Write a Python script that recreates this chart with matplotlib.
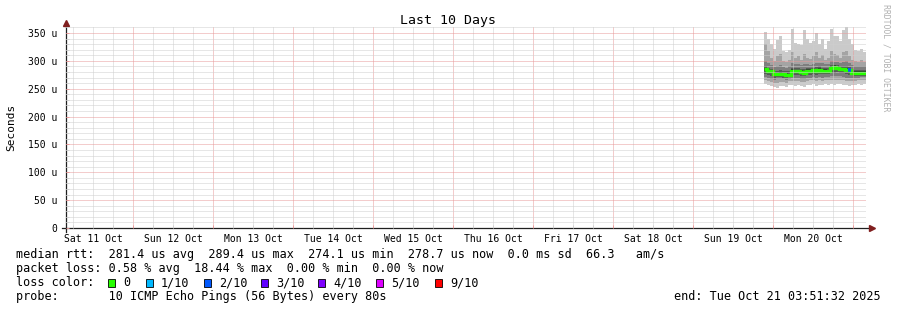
# %%

import matplotlib.pyplot as plt
import numpy as np
from matplotlib.patches import Rectangle
from matplotlib.ticker import MultipleLocator, FuncFormatter
from matplotlib.transforms import ScaledTranslation


# %%
# time axis: hours since Sat 11 Oct 00:00, graph ends Tue 21 Oct 03:51:32
t_end = 243.859
t_begin = t_end - 240
day_labels = ["Sat 11 Oct", "Sun 12 Oct", "Mon 13 Oct", "Tue 14 Oct", "Wed 15 Oct",
              "Thu 16 Oct", "Fri 17 Oct", "Sat 18 Oct", "Sun 19 Oct", "Mon 20 Oct"]

# smoke columns, 0.9 h each, the last one ends at t_end
col_hours = 0.9

# sorted ping rtt per column (us), p1 = fastest, p10 = slowest
p10 = [352, 340, 330, 322, 338, 345, 318, 315, 320, 358, 332, 330, 328, 355, 340, 332, 335,
       350, 330, 340, 322, 335, 358, 345, 345, 335, 355, 360, 340, 330, 320, 318, 322, 315]
p9 = [330, 318, 305, 300, 308, 312, 300, 298, 302, 315, 305, 308, 302, 312, 306, 303, 308,
      315, 305, 310, 302, 306, 318, 312, 310, 305, 315, 318, 308, 302, 300, 298, 302, 298]
p8 = [300, 296, 292, 289, 291, 293, 289, 288, 290, 297, 294, 294, 292, 294, 294, 293, 295,
      297, 296, 296, 294, 295, 300, 298, 298, 296, 298, 299, 296, 292, 291, 290, 291, 290]
p7 = [291, 288, 285, 282, 282, 283, 282, 281, 282, 288, 287, 287, 286, 285, 288, 287, 288,
      289, 290, 288, 287, 288, 293, 292, 292, 290, 291, 291, 289, 285, 284, 284, 284, 283]
p6 = [288, 284, 284, 279, 279, 280, 279, 278, 277, 285, 284, 284, 283, 281, 285, 285, 286,
      285, 287, 285, 285, 284, 290, 292, 290, 288, 288, 287, 286, 282, 282, 281, 281, 282]
p5 = [282, 278, 278, 273, 273, 274, 273, 272, 271, 279, 278, 278, 277, 275, 279, 279, 280,
      279, 281, 279, 279, 278, 284, 286, 284, 282, 282, 281, 280, 276, 276, 275, 275, 276]
p4 = [277, 274, 273, 270, 271, 271, 270, 270, 271, 275, 274, 274, 273, 272, 275, 275, 276,
      275, 277, 276, 276, 276, 279, 279, 280, 278, 278, 277, 275, 274, 273, 273, 273, 273]
p3 = [271, 269, 268, 266, 267, 267, 267, 266, 268, 270, 269, 269, 268, 268, 270, 270, 271,
      270, 271, 270, 271, 271, 272, 272, 273, 272, 271, 270, 269, 270, 270, 270, 271, 271]
p2 = [265, 263, 262, 260, 261, 262, 262, 261, 263, 264, 263, 263, 262, 262, 264, 265, 265,
      264, 265, 264, 265, 265, 266, 265, 266, 266, 265, 264, 263, 264, 264, 265, 265, 266]
p1 = [258, 256, 255, 253, 252, 254, 255, 253, 256, 257, 255, 256, 254, 253, 256, 257, 258,
      255, 257, 256, 258, 257, 258, 256, 259, 258, 257, 256, 255, 257, 256, 258, 257, 259]
median = [285, 281, 281, 276, 276, 277, 276, 275, 274, 282, 281, 281, 280, 278, 282, 282, 283,
          282, 284, 282, 282, 281, 287, 289, 287, 285, 285, 284, 283, 279, 279, 278, 278, 279]
# lost pings out of 10 per column
loss = [0, 0, 0, 0, 0, 0, 0, 0, 0, 0, 0, 0, 0, 0, 0, 0, 0,
        0, 0, 0, 0, 0, 0, 0, 0, 0, 0, 0, 2, 0, 0, 0, 0, 0]

loss_levels = [0, 1, 2, 3, 4, 5, 9]
loss_names = ["0", "1/10", "2/10", "3/10", "4/10", "5/10", "9/10"]
loss_colors = ["#26ff00", "#00b8ff", "#0059ff", "#5e00ff", "#7e00ff", "#dd00ff", "#ff0000"]

legend_rtt = "median rtt:  281.4 us avg  289.4 us max  274.1 us min  278.7 us now  0.0 ms sd  66.3   am/s"
legend_loss = "packet loss: 0.58 % avg  18.44 % max  0.00 % min  0.00 % now"
legend_probe = "probe:       10 ICMP Echo Pings (56 Bytes) every 80s"
legend_end = "end: Tue Oct 21 03:51:32 2025"

# %%
W, H = 897, 310
MONO = "DejaVu Sans Mono"
GRID = "#cfcfcf"
MGRID = "#e89a9a"
ARROW = (0.5, 0.12, 0.12)


def px(x, y):
    """pixel position -> figure fraction"""
    return x / W, 1 - y / H


fig = plt.figure(figsize=(W / 100, H / 100), dpi=100)
ax = fig.add_axes([66 / W, 82 / H, 800 / W, 201.7 / H])

n = len(median)
edges = t_end - col_hours * n + col_hours * np.arange(n + 1)

bands = [(p1, p10), (p2, p9), (p3, p8), (p4, p7), (p5, p6)]
grays = ["#cacaca", "#a4a4a4", "#7e7e7e", "#585858", "#323232"]
for (lo, hi), g in zip(bands, grays):
    ax.stairs(hi, edges, baseline=lo, fill=True, color=g, lw=0)

ax.stairs(median, edges, baseline=None, color=loss_colors[0], lw=2.4)
for i, l in enumerate(loss):
    if l:
        c = loss_colors[loss_levels.index(l)]
        ax.hlines(median[i], edges[i], edges[i + 1], color=c, lw=2.6)

ax.set_xlim(t_begin, t_end)
ax.set_ylim(0, 362)

ax.xaxis.set_major_locator(MultipleLocator(24))
ax.xaxis.set_minor_locator(MultipleLocator(6))
ax.xaxis.set_major_formatter(FuncFormatter(lambda v, p: ""))
ax.xaxis.set_minor_formatter(
    FuncFormatter(lambda v, p: day_labels[int(v // 24)] if v % 24 == 12 and 0 <= v // 24 < 10 else ""))
ax.yaxis.set_major_locator(MultipleLocator(50))
ax.yaxis.set_minor_locator(MultipleLocator(10))
ax.yaxis.set_major_formatter(FuncFormatter(lambda v, p: "0" if v == 0 else "%d u" % v))

ax.grid(which="major", color=MGRID, lw=0.72, ls=(0, (1, 1)))
ax.grid(which="minor", color=GRID, lw=0.72, ls=(0, (1, 1)))
ax.set_axisbelow(False)

ax.tick_params(which="both", labelsize=7, direction="in", length=2, width=0.7, colors=GRID,
               labelcolor="black")
ax.tick_params(which="major", colors=MGRID, labelcolor="black")
ax.tick_params(axis="x", which="minor", pad=4)
ax.tick_params(axis="y", which="major", pad=6)
for lbl in ax.get_xticklabels(minor=True) + ax.get_yticklabels():
    lbl.set_family(MONO)
zero = ax.get_yticklabels()[0]
zero.set_transform(zero.get_transform() + ScaledTranslation(-0.12, 0, fig.dpi_scale_trans))

for s in ax.spines.values():
    s.set_visible(False)
ax.plot([-0.005, 1.004], [0, 0], transform=ax.transAxes, color="#1f1f1f", lw=0.9, clip_on=False)
ax.plot([0, 0], [-0.02, 1.01], transform=ax.transAxes, color="#1f1f1f", lw=0.9, clip_on=False)
ax.plot([1.007], [0], transform=ax.transAxes, marker=">", ms=4, color=ARROW, clip_on=False)
ax.plot([0], [1.018], transform=ax.transAxes, marker="^", ms=4, color=ARROW, clip_on=False)

ax.set_ylabel("Seconds", family=MONO, fontsize=8)
ax.yaxis.set_label_coords(-50 / 800, 0.5)
fig.text(*px(447.5, 24), "Last 10 Days", family=MONO, fontsize=9.5, ha="center", va="baseline")
fig.text(*px(886, 4), "RRDTOOL / TOBI OETIKER", family=MONO, fontsize=5.9, color="#b0b0b0",
         rotation=270, ha="center", va="top")

# legend block
fig.text(*px(16, 258), legend_rtt, family=MONO, fontsize=8.5, va="baseline")
fig.text(*px(16, 272), legend_loss, family=MONO, fontsize=8.5, va="baseline")
fig.text(*px(16, 286), "loss color:", family=MONO, fontsize=8.5, va="baseline")
fig.text(*px(16, 300), legend_probe, family=MONO, fontsize=8.5, va="baseline")
fig.text(*px(881, 300), legend_end, family=MONO, fontsize=8.5, va="baseline", ha="right")

sq_x = [108, 146, 204, 261, 318, 376, 435]
for x, name, c in zip(sq_x, loss_names, loss_colors):
    fig.add_artist(Rectangle(px(x, 287), 7 / W, 8 / H, facecolor=c, edgecolor="black",
                             lw=0.6, transform=fig.transFigure))
    fig.text(*px(x + 15, 286), name, family=MONO, fontsize=8.5, va="baseline")

fig.savefig("out.png", dpi=100, facecolor="white")
